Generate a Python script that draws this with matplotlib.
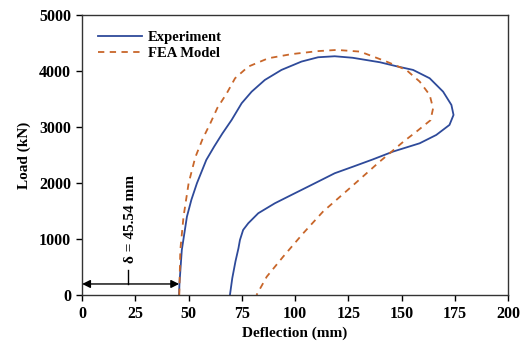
import matplotlib
matplotlib.use("Agg")
import matplotlib.pyplot as plt

# Experiment curve
exp_defl = [45.5, 45.7, 46.8, 49.2, 51.3, 53.9, 58.3, 62.0, 65.8, 70.2, 74.9, 79.6, 85.8, 93.6,
            103.0, 110.8, 118.6, 127.0, 139.8, 148.0, 155.4, 163.2, 169.5, 173.4, 174.4, 172.5,
            166.3, 158.5, 146.0, 136.5, 127.3, 118.6, 113.9, 106.1, 98.3, 90.5, 82.7, 78.0,
            75.6, 74.1, 73.4, 72.0, 70.5, 69.4]
exp_load = [0, 209, 804, 1398, 1700, 1995, 2411, 2650, 2880, 3125, 3423, 3630, 3839, 4018,
            4167, 4244, 4262, 4235, 4155, 4080, 4018, 3869, 3630, 3393, 3214, 3036,
            2857, 2708, 2560, 2420, 2292, 2173, 2083, 1934, 1786, 1637, 1459, 1280,
            1161, 982, 834, 600, 300, 0]

# FEA model curve
fea_defl = [45.6, 46.1, 47.6, 50.0, 53.1, 56.5, 60.2, 63.5, 67.9, 71.8, 78.0, 87.4, 98.3,
            110.8, 119.6, 130.5, 142.9, 152.2, 158.5, 163.2, 164.8, 163.6, 157.0, 150.9,
            144.6, 139.7, 126.5, 113.1, 103.8, 94.4, 86.7, 81.9]
fea_load = [0, 804, 1398, 1995, 2455, 2780, 3066, 3340, 3600, 3869, 4077, 4226, 4300,
            4354, 4375, 4345, 4167, 4018, 3810, 3571, 3333, 3120, 2917, 2738,
            2536, 2380, 1934, 1488, 1101, 684, 327, 0]

x_ticks = [0, 25, 50, 75, 100, 125, 150, 175, 200]
y_ticks = [0, 1000, 2000, 3000, 4000, 5000]

delta_value = 45.54
arrow_load = 196

plt.rcParams['font.family'] = ['Liberation Serif', 'DejaVu Serif']
plt.rcParams['font.weight'] = 'bold'

fig = plt.figure(figsize=(5.2, 3.47), dpi=100)
ax = fig.add_axes([0.158, 0.150, 0.819, 0.807])

ax.plot(exp_defl, exp_load, color='#2E4A9A', lw=1.3, label='Experiment',
        solid_joinstyle='round')
ax.plot(fea_defl, fea_load, color='#C8662A', lw=1.3, ls=(0, (3.5, 3)), label='FEA Model',
        dash_joinstyle='round')

ax.set_xlim(0, 200)
ax.set_ylim(0, 5000)
ax.set_xticks(x_ticks)
ax.set_yticks(y_ticks)
ax.tick_params(direction='out', length=4, width=1, labelsize=11.5, colors='black', pad=4)
for lab in ax.get_xticklabels() + ax.get_yticklabels():
    lab.set_fontweight('bold')
for s in ax.spines.values():
    s.set_linewidth(1.0)
    s.set_color('#333333')

ax.set_xlabel('Deflection (mm)', fontsize=11, fontweight='bold', labelpad=3)
ax.set_ylabel('Load (kN)', fontsize=11, fontweight='bold', labelpad=6)

# delta annotation
ax.annotate('', xy=(0, arrow_load), xytext=(delta_value, arrow_load),
            arrowprops=dict(arrowstyle='<|-|>', color='black', lw=1.0, mutation_scale=12,
                            shrinkA=0, shrinkB=0))
ax.plot([21.6, 21.6], [arrow_load, 446], color='black', lw=1.0)
ax.text(22.8, 1360, 'δ = 45.54 mm', rotation=90, ha='center', va='center',
        fontsize=11, fontweight='bold')

ax.legend(loc='upper left', frameon=False, handlelength=3.0,
          borderaxespad=0.7, labelspacing=0.2, handletextpad=0.4,
          prop={'weight': 'bold', 'size': 10.5})

fig.savefig('out.png', dpi=100)
